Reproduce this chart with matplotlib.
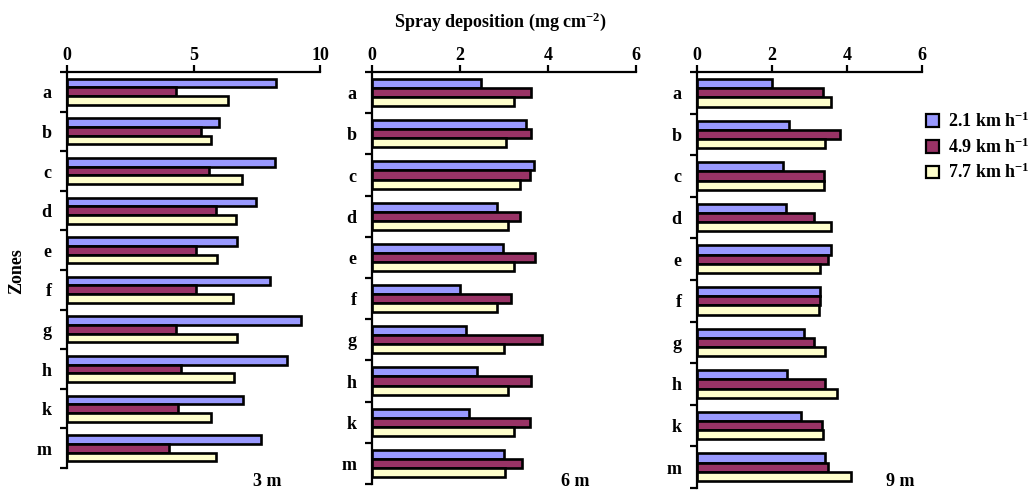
import numpy as np
import matplotlib
matplotlib.use("Agg")
import matplotlib.pyplot as plt
from matplotlib.patches import Patch

plt.rcParams['font.family'] = ['Liberation Serif', 'DejaVu Serif']
plt.rcParams['font.weight'] = 'bold'
plt.rcParams['mathtext.fontset'] = 'custom'
plt.rcParams['mathtext.rm'] = 'Liberation Serif:bold'
plt.rcParams['mathtext.default'] = 'rm'

zones = ["a", "b", "c", "d", "e", "f", "g", "h", "k", "m"]
speeds = ["2.1 km h$^{-1}$", "4.9 km h$^{-1}$", "7.7 km h$^{-1}$"]
colors = ["#9999FF", "#993366", "#FFFFCC"]

# spray deposition (mg cm-2) at 3 m
d3_21 = [8.26, 6.0, 8.23, 7.47, 6.72, 8.04, 9.24, 8.68, 6.94, 7.67]
d3_49 = [4.3, 5.3, 5.6, 5.9, 5.1, 5.1, 4.3, 4.5, 4.38, 4.04]
d3_77 = [6.35, 5.68, 6.9, 6.68, 5.91, 6.57, 6.72, 6.6, 5.68, 5.88]
# 6 m
d6_21 = [2.47, 3.49, 3.69, 2.85, 2.97, 2.0, 2.13, 2.39, 2.2, 3.01]
d6_49 = [3.61, 3.61, 3.6, 3.36, 3.7, 3.17, 3.87, 3.62, 3.58, 3.42]
d6_77 = [3.23, 3.04, 3.36, 3.09, 3.23, 2.84, 3.01, 3.08, 3.23, 3.03]
# 9 m
d9_21 = [2.0, 2.46, 2.3, 2.38, 3.56, 3.27, 2.84, 2.41, 2.77, 3.4]
d9_49 = [3.35, 3.82, 3.38, 3.13, 3.5, 3.27, 3.13, 3.4, 3.33, 3.5]
d9_77 = [3.56, 3.4, 3.38, 3.56, 3.27, 3.25, 3.4, 3.74, 3.36, 4.11]

panels = [
    ("3 m", [d3_21, d3_49, d3_77], 10, [0, 5, 10]),
    ("6 m", [d6_21, d6_49, d6_77], 6, [0, 2, 4, 6]),
    ("9 m", [d9_21, d9_49, d9_77], 6, [0, 2, 4, 6]),
]

W, H = 1032, 491
fig = plt.figure(figsize=(W / 100, H / 100), dpi=100)

# axes boxes in pixels: left, right, top, bottom
boxes = [(67, 320, 72, 468), (372, 636, 72, 484), (697, 922, 72, 488)]
label_pos = [(267, 481), (575, 481), (900, 481)]

fs = 13
bh = 0.22
y = np.arange(len(zones)) + 0.5

for (name, series, xmax, xt), (l, r, t, b), (lx, ly) in zip(panels, boxes, label_pos):
    ax = fig.add_axes([l / W, 1 - b / H, (r - l) / W, (b - t) / H])
    for j, (vals, c) in enumerate(zip(series, colors)):
        ax.barh(y + (j - 1) * bh, vals, height=bh, color=c,
                edgecolor="black", linewidth=1.9)
    ax.set_xlim(0, xmax)
    ax.set_ylim(len(zones), 0)
    ax.xaxis.tick_top()
    ax.set_xticks(xt)
    ax.set_xticklabels([str(v) for v in xt], fontsize=fs, fontweight='bold')
    ax.tick_params(axis='x', direction='out', length=5, width=1.6, pad=1)
    ax.set_yticks(np.arange(len(zones) + 1))
    ax.set_yticklabels([])
    ax.set_yticks(y, minor=True)
    ax.set_yticklabels(zones, minor=True, fontsize=fs, fontweight='bold')
    ax.tick_params(axis='y', which='major', direction='out', length=5, width=1.6)
    ax.tick_params(axis='y', which='minor', length=0, pad=11)
    for s in ["right", "bottom"]:
        ax.spines[s].set_visible(False)
    for s in ["top", "left"]:
        ax.spines[s].set_linewidth(1.6)
    fig.text(lx / W, 1 - ly / H, name, ha='center', va='center',
             fontsize=fs, fontweight='bold')

fig.text(500 / W, 1 - 22 / H, "Spray deposition (mg cm$^{-2}$)",
         ha='center', va='center', fontsize=fs, fontweight='bold')
fig.text(17 / W, 1 - 271 / H, "Zones", rotation=90, ha='center',
         va='center', fontsize=fs, fontweight='bold')

handles = [Patch(facecolor=c, edgecolor="black", linewidth=1.6) for c in colors]
fig.legend(handles, speeds, loc='center left',
           bbox_to_anchor=(926 / W, 1 - 147 / H), frameon=False,
           fontsize=fs, handlelength=0.7, handleheight=0.7,
           handletextpad=0.5, labelspacing=0.35, borderpad=0, borderaxespad=0)

fig.savefig("out.png", dpi=100)
